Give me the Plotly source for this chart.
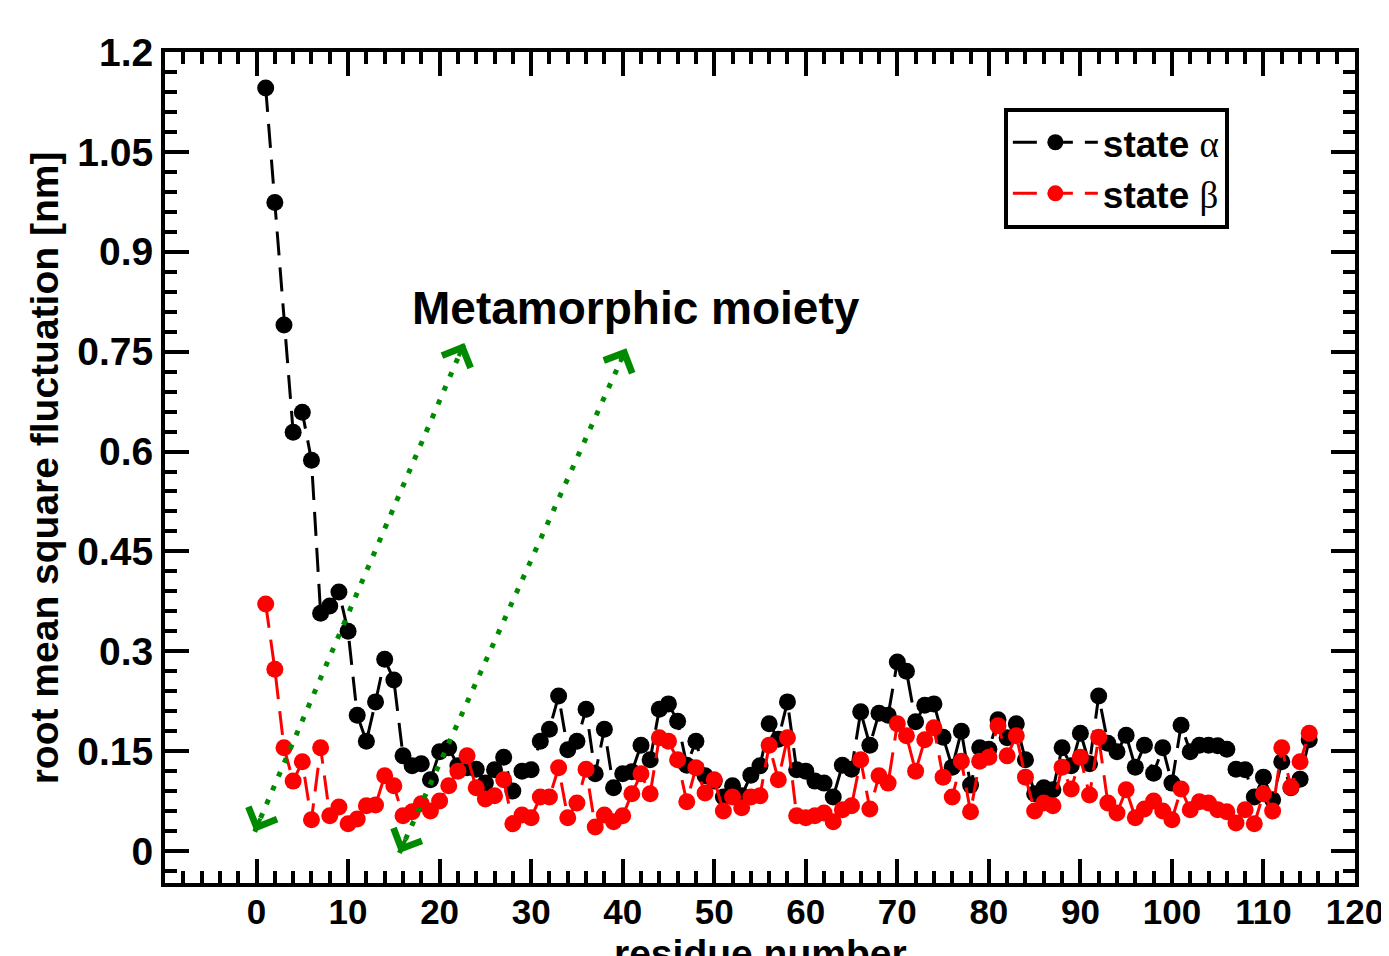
import plotly.graph_objects as go

residues = list(range(1, 116))

state_alpha = [
    1.146, 0.974, 0.790, 0.629, 0.659, 0.587, 0.357, 0.368, 0.389, 0.330,
    0.204, 0.165, 0.224, 0.288, 0.257, 0.143, 0.128, 0.131, 0.107, 0.149,
    0.155, 0.128, 0.125, 0.123, 0.102, 0.122, 0.141, 0.090, 0.120, 0.122,
    0.165, 0.183, 0.233, 0.152, 0.165, 0.213, 0.116, 0.183, 0.095, 0.116,
    0.119, 0.159, 0.137, 0.213, 0.221, 0.195, 0.129, 0.165, 0.113, 0.105,
    0.081, 0.098, 0.083, 0.114, 0.128, 0.191, 0.168, 0.224, 0.122, 0.120,
    0.105, 0.102, 0.081, 0.129, 0.123, 0.209, 0.159, 0.207, 0.204, 0.284,
    0.270, 0.194, 0.219, 0.221, 0.171, 0.126, 0.180, 0.099, 0.155, 0.153,
    0.197, 0.170, 0.191, 0.137, 0.086, 0.095, 0.092, 0.155, 0.128, 0.177,
    0.131, 0.233, 0.162, 0.149, 0.174, 0.126, 0.159, 0.117, 0.155, 0.102,
    0.189, 0.149, 0.159, 0.159, 0.158, 0.153, 0.123, 0.122, 0.081, 0.111,
    0.077, 0.134, 0.095, 0.108, 0.167,
]

state_beta = [
    0.371, 0.273, 0.155, 0.105, 0.134, 0.047, 0.155, 0.053, 0.066, 0.041,
    0.048, 0.068, 0.069, 0.113, 0.098, 0.053, 0.059, 0.071, 0.060, 0.075,
    0.098, 0.120, 0.143, 0.095, 0.078, 0.083, 0.107, 0.041, 0.054, 0.050,
    0.081, 0.081, 0.125, 0.050, 0.072, 0.123, 0.036, 0.054, 0.044, 0.053,
    0.086, 0.116, 0.086, 0.170, 0.165, 0.137, 0.074, 0.125, 0.087, 0.107,
    0.060, 0.081, 0.065, 0.081, 0.083, 0.159, 0.107, 0.170, 0.053, 0.050,
    0.053, 0.057, 0.044, 0.062, 0.068, 0.137, 0.063, 0.113, 0.102, 0.191,
    0.173, 0.120, 0.167, 0.185, 0.111, 0.081, 0.135, 0.059, 0.135, 0.141,
    0.188, 0.143, 0.173, 0.111, 0.060, 0.072, 0.068, 0.126, 0.093, 0.141,
    0.084, 0.171, 0.072, 0.057, 0.092, 0.050, 0.063, 0.075, 0.060, 0.047,
    0.093, 0.062, 0.074, 0.072, 0.062, 0.059, 0.042, 0.062, 0.041, 0.086,
    0.060, 0.155, 0.096, 0.134, 0.177,
]

# double-headed arrows: (x0, y0) -> (x1, y1)
arrow_starts = [(-0.2, 0.029), (15.6, -0.003)]
arrow_ends = [(22.7, 0.763), (40.4, 0.755)]

label_text = "Metamorphic moiety"
label_pos = (41.4, 0.815)

x_title = "residue number"
y_title = "root mean square fluctuation [nm]"

x_ticks = list(range(0, 121, 10))
y_ticks = [0, 0.15, 0.3, 0.45, 0.6, 0.75, 0.9, 1.05, 1.2]
y_tick_labels = ["0", "0.15", "0.3", "0.45", "0.6", "0.75", "0.9", "1.05", "1.2"]

GREEN = "#008a00"
FONT = "Liberation Sans"

fig = go.Figure()

fig.add_trace(go.Scatter(
    x=residues, y=state_alpha, mode="lines+markers",
    name="state <span style='font-family:Liberation Serif;font-weight:normal'>α</span>",
    line=dict(color="black", width=3, dash="24px,12px"),
    marker=dict(color="black", size=17),
))
fig.add_trace(go.Scatter(
    x=residues, y=state_beta, mode="lines+markers",
    name="state <span style='font-family:Liberation Serif;font-weight:normal'>β</span>",
    line=dict(color="#ff0000", width=3, dash="24px,12px"),
    marker=dict(color="#ff0000", size=17),
))

for (x0, y0), (x1, y1) in zip(arrow_starts, arrow_ends):
    fig.add_trace(go.Scatter(
        x=[x0, x1], y=[y0, y1], mode="lines", showlegend=False,
        line=dict(color=GREEN, width=5, dash="5px,10px"),
        hoverinfo="skip",
    ))
    for (hx, hy), (tx, ty) in (((x1, y1), (x0, y0)), ((x0, y0), (x1, y1))):
        f = 0.03
        fig.add_annotation(
            x=hx, y=hy, ax=hx + (tx - hx) * f, ay=hy + (ty - hy) * f,
            xref="x", yref="y", axref="x", ayref="y",
            text="", showarrow=True, arrowhead=4, arrowsize=1.5,
            arrowwidth=4, arrowcolor=GREEN, standoff=0, startstandoff=0,
        )

fig.add_annotation(
    x=label_pos[0], y=label_pos[1], xref="x", yref="y",
    text=label_text, showarrow=False,
    font=dict(family=FONT, size=46, color="black", weight="bold"),
)

# axis titles
fig.add_annotation(
    x=0.5, y=-0.057, xref="paper", yref="paper", xanchor="center", yanchor="top",
    text=x_title, showarrow=False,
    font=dict(family=FONT, size=39, color="black", weight="bold"),
)
fig.add_annotation(
    x=-0.101, y=0.5, xref="paper", yref="paper", xanchor="center", yanchor="middle",
    text=y_title, showarrow=False, textangle=-90,
    font=dict(family=FONT, size=39, color="black", weight="bold"),
)

axis_common = dict(
    showline=True, linecolor="black", linewidth=4, mirror="allticks",
    ticks="inside", ticklen=24, tickwidth=4, tickcolor="black",
    showgrid=False, zeroline=False, automargin=False,
)

fig.update_xaxes(
    range=[-10, 120], tickvals=x_ticks,
    tickfont=dict(family=FONT, size=35, color="black", weight="bold"),
    ticklabelstandoff=-5,
    minor=dict(dtick=2, tick0=0, ticks="inside", ticklen=12, tickwidth=4, tickcolor="black"),
    **axis_common,
)
fig.update_yaxes(
    range=[-0.048, 1.2], tickvals=y_ticks, ticktext=y_tick_labels,
    tickfont=dict(family=FONT, size=39, color="black", weight="bold"),
    minor=dict(dtick=0.03, tick0=0, ticks="inside", ticklen=12, tickwidth=4, tickcolor="black"),
    **axis_common,
)

fig.update_layout(
    width=1381, height=948,
    margin=dict(l=157, r=34, t=44, b=73),
    plot_bgcolor="white", paper_bgcolor="white",
    showlegend=True,
    legend=dict(
        x=0.894, y=0.933, xanchor="right", yanchor="top",
        bgcolor="white", bordercolor="black", borderwidth=4,
        font=dict(family=FONT, size=37, color="black", weight="bold"),
        tracegroupgap=0, itemwidth=85,
    ),
)

fig.write_html("out.html")
